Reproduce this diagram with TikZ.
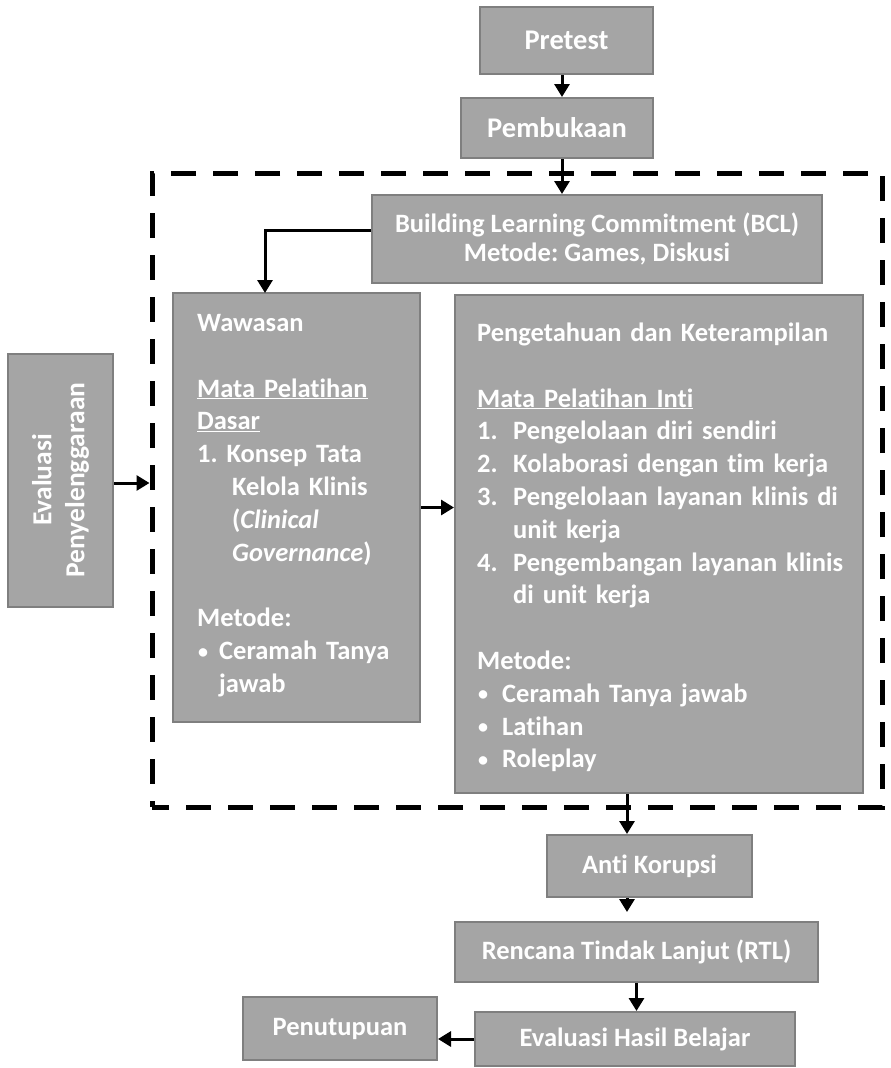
\documentclass[tikz,border=0pt]{standalone}
\usepackage{fontspec}
\setmainfont{Carlito}[Ligatures=NoCommon]
\usetikzlibrary{arrows.meta}
\definecolor{boxfill}{HTML}{A5A5A5}
\definecolor{boxline}{HTML}{7F7F7F}
\newcommand{\bodyfont}{\fontsize{26.5}{32.8}\selectfont\bfseries\frenchspacing}
\newcommand{\blt}[1]{\makebox[#1][l]{\hspace{1pt}\raisebox{1.5pt}{\fontsize{20}{20}\selectfont•}}}

\begin{document}
\begin{tikzpicture}[x=1pt,y=-1pt,
  box/.style={draw=boxline,line width=2pt,fill=boxfill,text=white,font=\bodyfont,inner sep=0pt,align=center},
  txt/.style={text=white,font=\bodyfont,inner sep=0pt,align=left,anchor=base west},
  arr/.style={line width=3pt,-{Triangle[width=15pt,length=13pt]}},
  dashframe/.style={draw,line width=5pt,dash pattern=on 25pt off 17pt,dash phase=8pt}]
\useasboundingbox (0,0) rectangle (891,1068);
\node[dashframe,minimum width=730pt,minimum height=634pt] (frame) at (517,490) {};% dashed block round the core sessions
\node[box,minimum width=173pt,minimum height=67pt,font=\fontsize{28.5}{34}\selectfont\bfseries] (pre) at (566.5,40.5) {Pretest};
\node[box,minimum width=192pt,minimum height=60pt,font=\fontsize{28.5}{34}\selectfont\bfseries] (pem) at (557,128) {Pembukaan};
\node[box,minimum width=450pt,minimum height=88pt,font=\fontsize{26.5}{29}\selectfont\bfseries\frenchspacing] (bcl) at (597,239) {Building Learning Commitment (BCL)\\Metode: Games, Diskusi};
\node[box,minimum width=247pt,minimum height=429pt] (waw) at (296.5,507.5) {};
\node[box,minimum width=408pt,minimum height=498pt] (pk) at (659,544) {};
\node[box,rotate=90,minimum width=253pt,minimum height=105pt,font=\fontsize{27.5}{33}\selectfont\bfseries] (evp) at (60.5,480) {Evaluasi\\Penyelenggaraan};
\node[box,minimum width=205pt,minimum height=62pt] (ak) at (649.5,866) {Anti Korupsi};
\node[box,minimum width=363pt,minimum height=60pt] (rtl) at (636.5,952) {Rencana Tindak Lanjut (RTL)};
\node[box,minimum width=320pt,minimum height=54pt] (ehb) at (635,1039) {Evaluasi Hasil Belajar};
\node[box,minimum width=194pt,minimum height=63pt] (pen) at (340,1028.5) {Penutupuan};
% text of the two large boxes
\node[txt,text width=215pt] (waw-t) at (197,331.5) {Wawasan\\ ~\\
  \underline{Mata Pelatihan}\\ \underline{Dasar}\\
  1. Konsep Tata\\ \hspace*{35pt}Kelola Klinis\\ \hspace*{35pt}(\textit{Clinical}\\ \hspace*{35pt}\textit{Governance})\\ ~\\
  Metode:\\ \blt{22pt}Ceramah Tanya\\ \hspace*{22pt}jawab};
\node[txt,text width=380pt] (pk-t) at (477,341.5) {Pengetahuan dan Keterampilan\\ ~\\
  \underline{Mata Pelatihan Inti}\\
  \makebox[36pt][l]{1.}Pengelolaan diri sendiri\\
  \makebox[36pt][l]{2.}Kolaborasi dengan tim kerja\\
  \makebox[36pt][l]{3.}Pengelolaan layanan klinis di\\ \hspace*{36pt}unit kerja\\
  \makebox[36pt][l]{4.}Pengembangan layanan klinis\\ \hspace*{36pt}di unit kerja\\ ~\\
  Metode:\\ \blt{25pt}Ceramah Tanya jawab\\
  \blt{25pt}Latihan\\ \blt{25pt}Roleplay};
% connectors
\coordinate (wtop) at (265,293);% entry point on top of Wawasan
\draw[arr] ([xshift=-4.5pt]pre.south) -- ([xshift=5pt]pem.north);
\draw[arr] ([xshift=5pt]pem.south) -- ([xshift=-35pt]bcl.north);
\draw[arr] ([yshift=9pt]bcl.west) -| (wtop);
\draw[arr] (waw.east) -- (waw.east -| pk.west);
\draw[arr] ([yshift=-3pt]evp.south) -- ([yshift=-3pt]evp.south -| frame.west);
\draw[arr] ([xshift=-32pt]pk.south) -- ([xshift=-22.5pt]ak.north);
\draw[arr,shorten >=9pt] ([xshift=-22.5pt]ak.south) -- ([xshift=-9.5pt]rtl.north);
\draw[arr] (rtl.south) -- (rtl.south |- ehb.north);
\draw[arr] (ehb.west) -- (ehb.west -| pen.east);
\end{tikzpicture}
\end{document}
